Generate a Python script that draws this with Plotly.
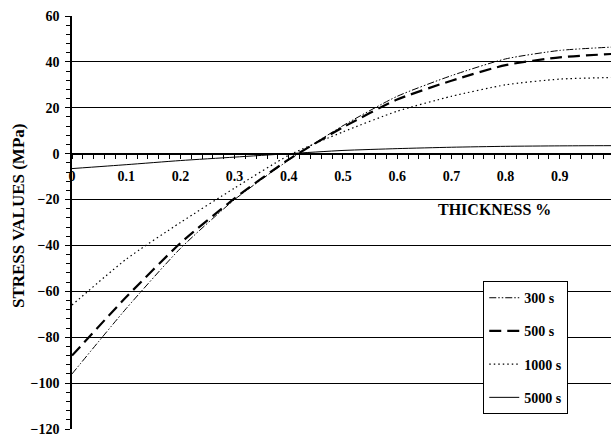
import plotly.graph_objects as go

# Through-thickness position (fraction of thickness)
thickness = [0.0, 0.1, 0.2, 0.3, 0.4, 0.5, 0.6, 0.7, 0.8, 0.9, 1.0]

# Residual stress (MPa) for each holding time
stress_300s = [-96.0, -67.5, -41.3, -20.0, -2.8, 12.2, 25.0, 34.0, 41.3, 45.0, 46.5]
stress_500s = [-88.0, -62.5, -39.0, -19.5, -2.5, 11.5, 23.6, 31.8, 38.6, 42.0, 43.5]
stress_1000s = [-66.0, -46.0, -30.0, -15.0, -0.7, 9.5, 18.5, 25.0, 30.0, 32.5, 33.2]
stress_5000s = [-6.5, -4.8, -3.0, -1.5, 0.0, 1.4, 2.2, 2.8, 3.2, 3.4, 3.5]

series_names = ["300 s", "500 s", "1000 s", "5000 s"]
x_ticks = [0, 0.1, 0.2, 0.3, 0.4, 0.5, 0.6, 0.7, 0.8, 0.9]
x_ticklabels = ["0", "0.1", "0.2", "0.3", "0.4", "0.5", "0.6", "0.7", "0.8", "0.9"]
y_ticks = [-120, -100, -80, -60, -40, -20, 0, 20, 40, 60]

FONT = "Liberation Serif"

styles = [
    dict(width=1, dash="7px,2px,1.5px,2px,1.5px,2px"),
    dict(width=2.2, dash="12px,6px"),
    dict(width=1.2, dash="1.5px,3px"),
    dict(width=1, dash="solid"),
]

fig = go.Figure()
for i, (name, ys) in enumerate(zip(series_names,
                                   [stress_300s, stress_500s, stress_1000s, stress_5000s])):
    fig.add_trace(go.Scatter(
        x=thickness, y=ys, mode="lines", name=name,
        line=dict(color="black", shape="spline", smoothing=0.6, **styles[i]),
        legendgroup=name,
    ))

y_min, y_max = -120, 60
x_pos = (0 - y_min) / (y_max - y_min)

fig.update_layout(
    width=611, height=437,
    margin=dict(l=72, r=0, t=16, b=8),
    paper_bgcolor="white", plot_bgcolor="white",
    font=dict(family=FONT, color="black", size=14),
    showlegend=True,
    legend=dict(
        x=0.763, y=0.358, xanchor="left", yanchor="top",
        bgcolor="white", bordercolor="black", borderwidth=1,
        font=dict(family=FONT, size=14, color="black", weight="bold"),
        tracegroupgap=12, itemwidth=30,
    ),
    xaxis=dict(
        range=[0, 0.9945], anchor="free", position=x_pos,
        showline=True, linecolor="black", linewidth=1,
        showgrid=False, zeroline=False,
        tickmode="array", tickvals=x_ticks, ticktext=x_ticklabels,
        ticks="outside", ticklen=4, tickcolor="black", tickwidth=1,
        minor=dict(dtick=0.02, ticks="outside", ticklen=4, tickcolor="black", showgrid=False),
        tickfont=dict(family=FONT, size=14, color="black", weight="bold"),
        ticklabelstandoff=6,
    ),
    xaxis2=dict(
        range=[0, 0.9945], anchor="free", position=x_pos, overlaying="x",
        showline=False, showgrid=False, zeroline=False,
        tickmode="array", tickvals=x_ticks, showticklabels=False,
        ticks="inside", ticklen=4, tickcolor="black", tickwidth=1,
    ),
    yaxis=dict(
        range=[y_min, y_max],
        showline=True, linecolor="black", linewidth=1.5,
        showgrid=True, gridcolor="black", gridwidth=1,
        zeroline=False,
        tickmode="array", tickvals=y_ticks,
        ticks="outside", ticklen=5, tickcolor="black", tickwidth=1,
        minor=dict(dtick=4, ticks="outside", ticklen=4, tickcolor="black", showgrid=False),
        tickfont=dict(family=FONT, size=14, color="black", weight="bold"),
        ticklabelstandoff=3,
    ),
)

fig.add_annotation(
    text="THICKNESS %", xref="x", yref="y", x=0.779, y=-24.4,
    showarrow=False, font=dict(family=FONT, size=16, color="black", weight="bold"),
)
fig.add_annotation(
    text="STRESS VALUES (MPa)", xref="paper", yref="paper",
    x=-0.098, y=0.516, xanchor="center", yanchor="middle", textangle=-90,
    showarrow=False, font=dict(family=FONT, size=17, color="black", weight="bold"),
)

fig.write_html("out.html")
